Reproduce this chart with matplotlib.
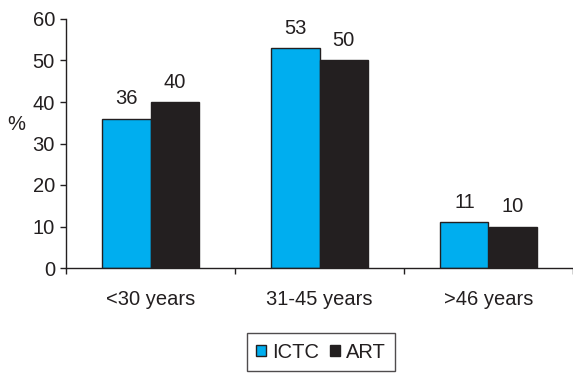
import matplotlib.pyplot as plt
import numpy as np
from matplotlib.patches import Patch

plt.rcParams["font.family"] = ["Liberation Sans", "DejaVu Sans"]

groups = ["<30 years", "31-45 years", ">46 years"]
ictc = [36, 53, 11]
art = [40, 50, 10]

TEXT = "#231F20"
CYAN = "#00AEEF"
DARK = "#231F20"
FS = 14.5

fig = plt.figure(figsize=(5.73, 3.75), dpi=100)
ax = fig.add_axes([66 / 573, 107 / 375, 507 / 573, 249 / 375])

x = np.arange(len(groups))
w = 0.285
b1 = ax.bar(x - w / 2, ictc, w, color=CYAN, edgecolor=TEXT, linewidth=1.0)
b2 = ax.bar(x + w / 2, art, w, color=DARK, edgecolor=TEXT, linewidth=1.0)

# value labels above each bar
for bars, vals in ((b1, ictc), (b2, art)):
    for rect, v in zip(bars, vals):
        ax.annotate(str(v), (rect.get_x() + rect.get_width() / 2, v),
                    xytext=(0, 7.5), textcoords="offset points",
                    ha="center", va="bottom", fontsize=FS, color=TEXT)

ax.set_xlim(-0.5, len(groups) - 0.5)
ax.set_ylim(0, 60)
ax.set_yticks(np.arange(0, 61, 10))
ax.set_xticks(np.arange(len(groups) + 1) - 0.5)
ax.set_xticklabels([])
for i, g in enumerate(groups):
    ax.text(i, -0.125, g, transform=ax.get_xaxis_transform(),
            ha="center", va="center", fontsize=FS, color=TEXT)

ax.spines["top"].set_visible(False)
ax.spines["right"].set_visible(False)
for s in ("left", "bottom"):
    ax.spines[s].set_color(TEXT)
    ax.spines[s].set_linewidth(1.0)
ax.tick_params(axis="both", direction="out", length=4, width=1.0,
               colors=TEXT, labelsize=FS, labelcolor=TEXT)
ax.tick_params(axis="y", pad=4)

fig.text(16.5 / 573, 1 - 125 / 375, "%", fontsize=FS, color=TEXT,
         ha="center", va="center")

handles = [Patch(facecolor=CYAN, edgecolor=TEXT, label="ICTC"),
           Patch(facecolor=DARK, edgecolor=TEXT, label="ART")]
fig.legend(handles=handles, loc="center", bbox_to_anchor=(321 / 573, 1 - 352 / 375),
           ncol=2, frameon=True, fancybox=False, edgecolor=TEXT, fontsize=FS,
           handlelength=0.5, handleheight=0.5, handletextpad=0.3,
           columnspacing=0.5, borderpad=0.45, borderaxespad=0, labelcolor=TEXT)

fig.savefig("out.png", dpi=100)
